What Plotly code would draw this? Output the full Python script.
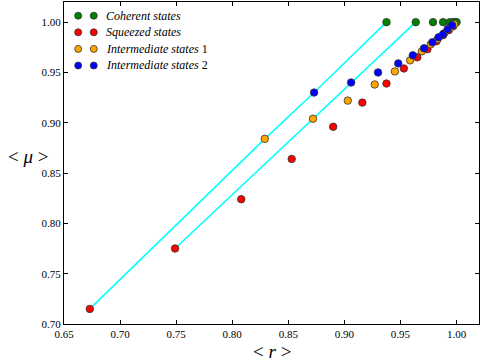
import plotly.graph_objects as go

# <r> and <mu> for each family of states
coherent_r = [0.9375, 0.9636, 0.979, 0.988, 0.994, 0.997, 0.999, 1.0]
coherent_mu = [1.0, 1.0, 1.0, 1.0, 1.0, 1.0, 1.0, 1.0]

squeezed_r = [0.673, 0.749, 0.808, 0.853, 0.890, 0.916, 0.9375, 0.953, 0.965, 0.974, 0.982, 0.988, 0.993, 0.997]
squeezed_mu = [0.715, 0.775, 0.824, 0.864, 0.896, 0.920, 0.939, 0.954, 0.965, 0.973, 0.981, 0.987, 0.992, 0.996]

inter1_r = [0.829, 0.872, 0.903, 0.927, 0.945, 0.9586, 0.969, 0.977, 0.983, 0.989, 0.994, 0.998]
inter1_mu = [0.884, 0.904, 0.922, 0.938, 0.951, 0.962, 0.971, 0.978, 0.983, 0.989, 0.994, 0.998]

inter2_r = [0.873, 0.906, 0.930, 0.948, 0.961, 0.971, 0.9785, 0.984, 0.988, 0.992, 0.996]
inter2_mu = [0.930, 0.940, 0.950, 0.959, 0.967, 0.974, 0.980, 0.985, 0.988, 0.993, 0.997]

x_ticks = [0.65, 0.70, 0.75, 0.80, 0.85, 0.90, 0.95, 1.00]
y_ticks = [0.70, 0.75, 0.80, 0.85, 0.90, 0.95, 1.00]

series = [
    ("<i>Coherent states</i>", coherent_r, coherent_mu, "#008000"),
    ("<i>Squeezed states</i>", squeezed_r, squeezed_mu, "#ff0000"),
    ("<i>Intermediate states</i> 1", inter1_r, inter1_mu, "#ffa500"),
    ("<i>Intermediate states</i> 2", inter2_r, inter2_mu, "#0000ff"),
]

SERIF = "Liberation Serif, Times New Roman, DejaVu Serif, serif"

fig = go.Figure()

# cyan guide lines through the first two points of every family
for i in range(2):
    fig.add_trace(go.Scatter(
        x=[squeezed_r[i], inter1_r[i], inter2_r[i], coherent_r[i]],
        y=[squeezed_mu[i], inter1_mu[i], inter2_mu[i], coherent_mu[i]],
        mode="lines", line=dict(color="#00ffff", width=1.5),
        showlegend=False, hoverinfo="skip"))

for name, xs, ys, col in series:
    fig.add_trace(go.Scatter(
        x=xs, y=ys, mode="markers", name=name,
        marker=dict(color=col, size=7.5, line=dict(color="#333333", width=0.8)),
        showlegend=False))

# matplotlib-like legend with two markers per row
L, R, T, B = 63.5, 479.0, 2.0, 324.0
W, H = R - L, B - T
shapes = []
annotations = []
for k, (name, xs, ys, col) in enumerate(series):
    py = 15.7 + k * 16.6
    yp = (B - py) / H
    for px in (77.7, 93.3):
        xp = (px - L) / W
        shapes.append(dict(type="circle", xref="paper", yref="paper",
                           x0=xp - 3.5 / W, x1=xp + 3.5 / W,
                           y0=yp - 3.5 / H, y1=yp + 3.5 / H,
                           fillcolor=col, line=dict(color="#333333", width=0.8)))
    annotations.append(dict(text=name, xref="paper", yref="paper",
                            x=(104 - L) / W, y=yp, xanchor="left", yanchor="middle",
                            showarrow=False,
                            font=dict(family=SERIF, size=12, color="black")))

annotations.append(dict(text="< <i>r</i> >", xref="paper", yref="paper",
                        x=0.5, y=(B - 351) / H, xanchor="center", yanchor="middle",
                        showarrow=False,
                        font=dict(family=SERIF, size=19, color="black")))
annotations.append(dict(text="< <i>μ</i> >", xref="paper", yref="paper",
                        x=(27 - L) / W, y=(B - 156) / H, xanchor="center", yanchor="middle",
                        showarrow=False,
                        font=dict(family=SERIF, size=19, color="black")))

axis_common = dict(showgrid=False, zeroline=False, showline=True, linecolor="black",
                   linewidth=1, mirror="ticks", ticks="inside", ticklen=4, tickwidth=1,
                   tickcolor="black", tickformat=".2f", automargin=False,
                   tickfont=dict(family=SERIF, size=11, color="black"))

fig.update_layout(
    width=481, height=361,
    margin=dict(l=63.5, r=2, t=2, b=37, autoexpand=False),
    plot_bgcolor="white", paper_bgcolor="white",
    font=dict(family=SERIF),
    xaxis=dict(range=[0.65, 1.02], tickvals=x_ticks, **axis_common),
    yaxis=dict(range=[0.70, 1.02], tickvals=y_ticks, **axis_common),
    shapes=shapes, annotations=annotations,
    showlegend=False,
)

fig.write_html("out.html", config={"displayModeBar": False},
               post_script="document.body.style.margin='0';")
